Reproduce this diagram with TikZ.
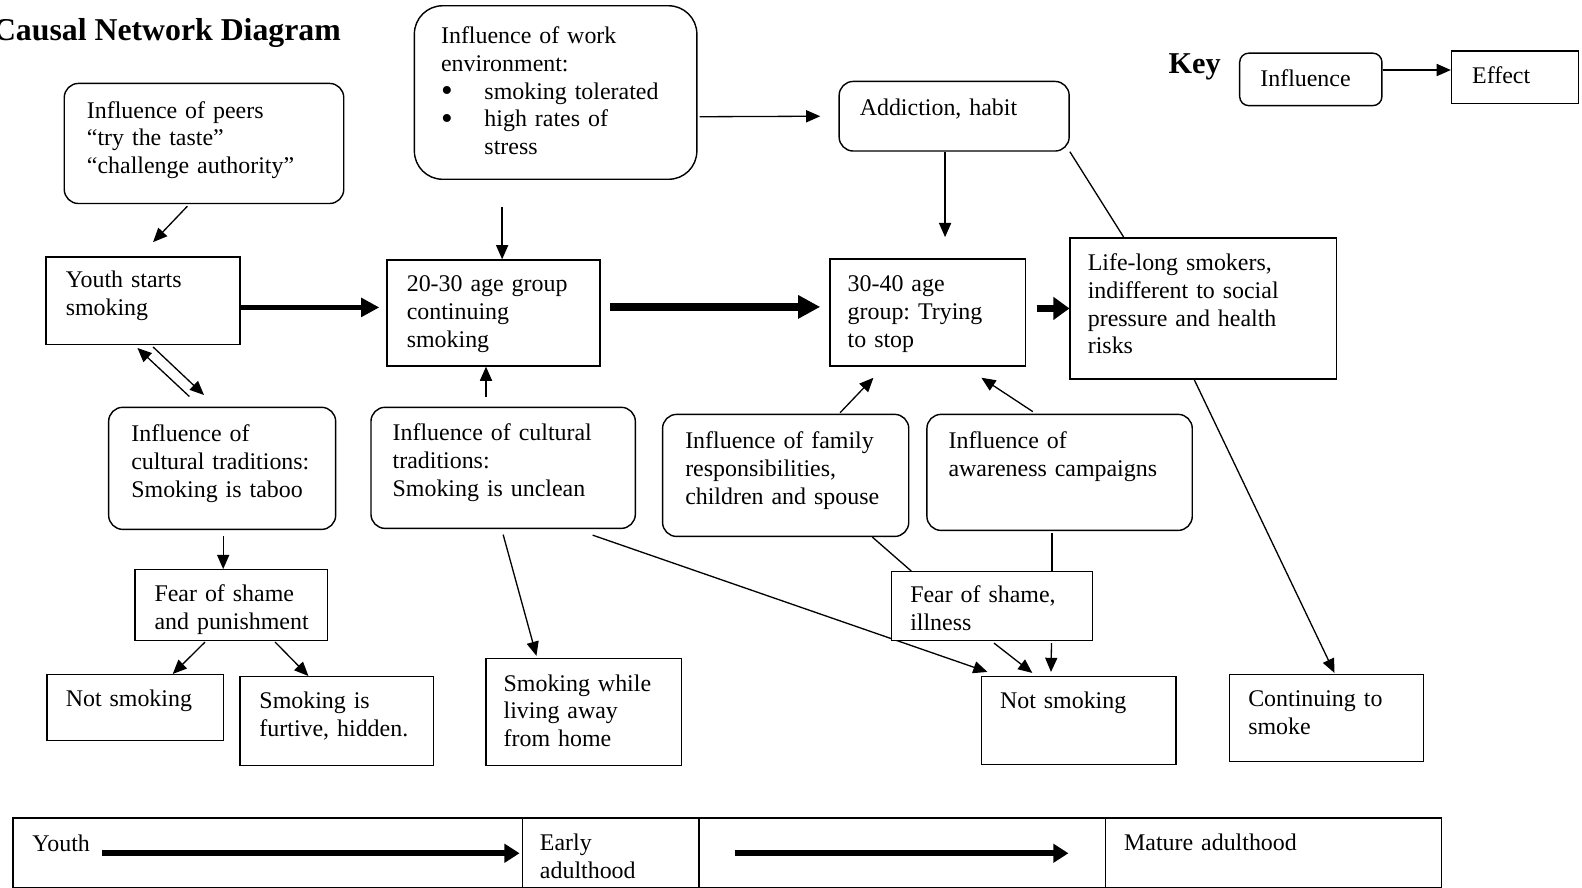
\documentclass[tikz,border=0pt]{standalone}
\usepackage{fontspec}
\setmainfont{Liberation Serif}
\usetikzlibrary{arrows.meta,calc}
\frenchspacing
\newcommand\mybox[9]{%
  \node[#1, minimum width=#5pt, minimum height=#6pt] (#2) at (#3,#4) {};
  \node[txt] (#2-t) at ([xshift=#7pt,yshift=-#8pt]#2.north west) {#9};}
\newcommand\bigbul{\makebox[43pt][l]{\smash{\raisebox{-2.5pt}{\fontsize{33}{33}\selectfont\textbullet}}}}
\begin{document}
\begin{tikzpicture}[x=1pt,y=-1pt]
\tikzset{
  box/.style={draw, line width=1.4pt, inner sep=0pt, anchor=north west, fill=white},
  rbox/.style={box, rounded corners=14pt},
  wbox/.style={box, rounded corners=28pt},
  kbox/.style={box, rounded corners=9pt},
  txt/.style={font=\fontsize{23.7}{27.6}\selectfont, text width=400pt, align=left, inner sep=0pt, anchor=base west},
  arr/.style={line width=1.3pt, -{Triangle[length=14pt,width=12pt]}},
  ln/.style={line width=1.3pt},
  thkA/.style={line width=5pt, -{Triangle[length=18pt,width=18pt]}},
  thkB/.style={line width=7.5pt, -{Triangle[length=22pt,width=22pt]}},
  thkC/.style={line width=7pt, -{Triangle[length=16pt,width=22pt]}},
  thkT/.style={line width=5.5pt, -{Triangle[length=15pt,width=18pt]}},
}
\useasboundingbox (0,0) rectangle (1568,880);

% title and key label
\node[anchor=base east, inner sep=0pt, font=\bfseries\fontsize{31.5}{36}\selectfont] (title) at (338,40) {Causal Network Diagram};
\node[anchor=base west, inner sep=0pt, font=\bfseries\fontsize{30}{34}\selectfont] (key) at (1158,73) {Key};

% boxes
\mybox{rbox}{peers}{63}{82}{277}{119}{23}{35}{Influence of peers\\“try the taste”\\“challenge authority”}
\mybox{wbox}{work}{410}{5}{280}{172}{27}{38}{Influence of work\\environment:\\\bigbul smoking tolerated\\\bigbul high rates of\\\hspace*{43pt}stress}
\mybox{box}{youth}{45}{254}{192}{87}{20}{31}{Youth starts\\smoking}
\mybox{box}{age2030}{383}{257}{211}{105}{20}{32}{20-30 age group\\continuing\\smoking}
\mybox{rbox}{addict}{831}{80}{228}{69}{21}{34}{Addiction, habit}
\mybox{box}{age3040}{822}{256}{194}{106}{18}{33}{30-40 age\\group: Trying\\to stop}
\mybox{box}{lifelong}{1060}{235}{264}{140}{18}{33}{Life-long smokers,\\indifferent to social\\pressure and health\\risks}
\mybox{rbox}{taboo}{107}{403}{225}{121}{23}{35}{Influence of\\cultural traditions:\\Smoking is taboo}
\mybox{rbox}{unclean}{367}{403}{262}{120}{22}{34}{Influence of cultural\\traditions:\\Smoking is unclean}
\mybox{rbox}{family}{656}{410}{244}{121}{23}{35}{Influence of family\\responsibilities,\\children and spouse}
\mybox{rbox}{aware}{918}{410}{263}{115}{22}{35}{Influence of\\awareness campaigns}
\mybox{box}{fearpun}{133}{564}{191}{70}{20}{32}{Fear of shame\\and punishment}
\mybox{box}{notsmka}{46}{668}{175}{65}{19}{32}{Not smoking}
\mybox{box}{furtive}{237}{670}{192}{88}{20}{32}{Smoking is\\furtive, hidden.}
\mybox{box}{away}{481}{652}{194}{106}{18}{33}{Smoking while\\living away\\from home}
\mybox{box}{notsmkb}{972}{670}{193}{87}{19}{32}{Not smoking}
\mybox{box}{cont}{1218}{668}{192}{86}{19}{32}{Continuing to\\smoke}
\mybox{kbox}{keyinf}{1228}{52}{141}{52}{21}{34}{Influence}
\mybox{box}{keyeff}{1438}{50}{126}{52}{21}{33}{Effect}

% long line from unclean to not smoking, under the fear box
\draw[arr] ([xshift=-43pt,yshift=-6pt]unclean.south east) -- ([xshift=-90.5pt,yshift=4pt]notsmkb.north);
\mybox{box}{fearill}{883}{566}{199}{68}{19}{31}{Fear of shame,\\illness}

% timeline
\mybox{box}{tla}{12}{810}{505}{69}{20}{34}{Youth}
\mybox{box}{tlb}{517}{810}{175}{69}{18}{33}{Early\\adulthood}
\node[box, minimum width=403pt, minimum height=69pt] (tlc) at (692,810) {};
\mybox{box}{tld}{1095}{810}{333}{69}{19}{33}{Mature adulthood}

% connectors
\draw[arr] ([xshift=-16.5pt,yshift=-2pt]peers.south) -- ([xshift=10pt,yshift=14pt]youth.north);
\draw[thkA] ([yshift=-6.5pt]youth.east) -- ([xshift=-7pt,yshift=5.5pt]age2030.west);
\draw[arr] ([xshift=-53pt,yshift=-27pt]work.south) -- ([xshift=8.5pt]age2030.north);
\draw[arr] ([xshift=-17pt,yshift=10pt]unclean.north) -- ([xshift=-7.5pt]age2030.south);
\draw[thkB] ([xshift=9pt,yshift=6pt]age2030.east) -- ([xshift=-9pt,yshift=5.5pt]age3040.west);
\draw[arr] ([xshift=2pt,yshift=-24pt]work.east) -- ([xshift=-18pt]addict.west);
\draw[arr] ([xshift=-9pt]addict.south) -- ([xshift=17pt,yshift=21pt]age3040.north);
\draw[ln] (addict.south east) -- ([xshift=-79pt]lifelong.north);
\draw[thkC] ([xshift=10pt,yshift=4pt]age3040.east) -- (lifelong.west);
\draw[arr] ([xshift=-9pt]lifelong.south) -- ([xshift=8pt,yshift=1pt]cont.north);
\draw[arr] ([xshift=-32.5pt,yshift=10pt]taboo.north) -- ([xshift=-5.5pt,yshift=-2.5pt]youth.south);
\draw[arr] ([xshift=10pt,yshift=-1.5pt]youth.south) -- ([xshift=-18pt,yshift=11.5pt]taboo.north);
\draw[arr] ([xshift=1pt,yshift=-6pt]taboo.south) -- ([xshift=-8pt]fearpun.north);
\draw[arr] ([xshift=-26pt,yshift=-1pt]fearpun.south) -- ([xshift=37pt]notsmka.north);
\draw[arr] ([xshift=43.5pt,yshift=-1pt]fearpun.south) -- ([xshift=-28pt]furtive.north);
\draw[arr] ([yshift=-5.5pt]unclean.south) -- ([xshift=-47pt,yshift=2pt]away.north);
\draw[arr] ([xshift=54pt,yshift=1pt]family.north) -- ([xshift=-54pt,yshift=-11pt]age3040.south);
\draw[arr] ([xshift=-26.5pt,yshift=2pt]aware.north) -- ([xshift=53pt,yshift=-11pt]age3040.south);
\draw[ln] ([xshift=86pt]family.south) -- ([xshift=-80pt]fearill.north);
\draw[ln] ([xshift=-7.5pt,yshift=-2pt]aware.south) -- ([xshift=59.5pt]fearill.north);
\draw[arr] ([xshift=2pt,yshift=-2pt]fearill.south) -- ([xshift=-46pt,yshift=3pt]notsmkb.north);
\draw[arr] ([xshift=59pt,yshift=-2pt]fearill.south) -- ([xshift=-27.5pt,yshift=4pt]notsmkb.north);
\draw[arr] ([yshift=9.3pt]keyinf.east) -- ([yshift=7.3pt]keyeff.west);
\draw[thkT] ([xshift=89pt,yshift=-0.5pt]tla.west) -- ([xshift=-2pt,yshift=-0.5pt]tlb.west);
\draw[thkT] ([xshift=36pt,yshift=-0.5pt]tlc.west) -- ([xshift=-36pt,yshift=-0.5pt]tld.west);
\end{tikzpicture}
\end{document}
